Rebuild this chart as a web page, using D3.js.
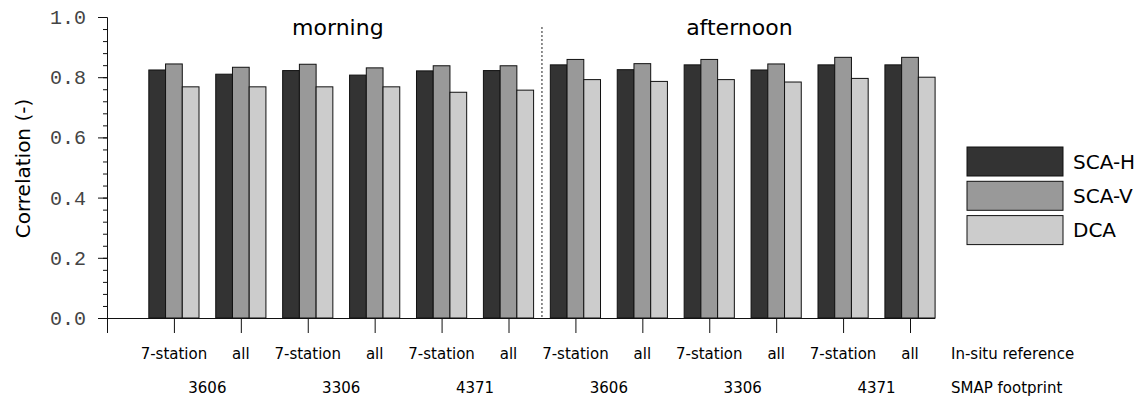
<!DOCTYPE html>
<html>
<head>
<meta charset="utf-8">
<script src="https://cdn.jsdelivr.net/npm/d3@7"></script>
<style>
  body { margin: 0; background: #fff; }
  svg { display: block; }
</style>
</head>
<body>
<div></div>
<script>
const seriesNames = ["SCA-H", "SCA-V", "DCA"];
const seriesColors = ["#333333", "#999999", "#cccccc"];
const inSitu = ["7-station", "all", "7-station", "all", "7-station", "all",
                "7-station", "all", "7-station", "all", "7-station", "all"];
const footprints = ["3606", "3306", "4371", "3606", "3306", "4371"];
const periods = ["morning", "afternoon"];
const scaH = [0.824, 0.810, 0.822, 0.807, 0.821, 0.822, 0.841, 0.825, 0.841, 0.824, 0.841, 0.841];
const scaV = [0.844, 0.833, 0.843, 0.831, 0.838, 0.838, 0.859, 0.845, 0.859, 0.844, 0.866, 0.866];
const dca  = [0.768, 0.768, 0.768, 0.768, 0.750, 0.757, 0.792, 0.786, 0.792, 0.784, 0.796, 0.800];
const yTicks = [0, 0.2, 0.4, 0.6, 0.8, 1.0];

const width = 1146, height = 401;
const svg = d3.select("div").append("svg").attr("width", width).attr("height", height);

const x = d3.scaleLinear().domain([0, 12]).range([107, 910]);
const y = d3.scaleLinear().domain([0, 1]).range([318, 17]);
const barW = (x(1) - x(0)) / 4;
const series = [scaH, scaV, dca];

// bars
series.forEach((vals, s) => {
  svg.append("g").selectAll("rect").data(vals).join("rect")
    .attr("x", (d, i) => x(i + 1) - 1.5 * barW + s * barW)
    .attr("y", d => y(d))
    .attr("width", barW)
    .attr("height", d => y(0) - y(d))
    .attr("fill", seriesColors[s])
    .attr("stroke", "#111")
    .attr("stroke-width", 1);
});

// y axis
const yAxis = svg.append("g").attr("transform", `translate(${x(0)},0)`)
  .call(d3.axisLeft(y).tickValues(yTicks).tickSize(9).tickPadding(12).tickFormat(d3.format(".1f")));
yAxis.selectAll("text").attr("font-family", "Liberation Mono, monospace").attr("font-size", 20).attr("fill", "#444");
svg.append("g").attr("transform", `translate(${x(0)},0)`)
  .call(d3.axisLeft(y).tickValues(d3.range(0, 1.001, 0.04)).tickSize(4).tickFormat(""))
  .select(".domain").remove();

// x axis
const xAxis = svg.append("g").attr("transform", `translate(0,${y(0)})`)
  .call(d3.axisBottom(x).tickValues(d3.range(0, 13)).tickSize(15).tickSizeOuter(0).tickFormat(""));
xAxis.select(".domain").attr("d", `M${x(0)},0.5H${x(12) + 1.5 * barW}`);
svg.selectAll(".tick line, .domain").attr("stroke", "#111");

// in-situ labels
svg.append("g").selectAll("text").data(inSitu).join("text")
  .attr("x", (d, i) => x(i + 1)).attr("y", 359)
  .attr("text-anchor", "middle")
  .attr("font-family", "DejaVu Sans, Verdana, sans-serif").attr("font-size", 15)
  .text(d => d);
svg.append("g").selectAll("text").data(footprints).join("text")
  .attr("x", (d, i) => x(2 * i + 1.5)).attr("y", 393)
  .attr("text-anchor", "middle")
  .attr("font-family", "DejaVu Sans, Verdana, sans-serif").attr("font-size", 15)
  .text(d => d);
svg.append("text").attr("x", 951).attr("y", 359)
  .attr("font-family", "DejaVu Sans, Verdana, sans-serif").attr("font-size", 15).text("In-situ reference");
svg.append("text").attr("x", 951).attr("y", 393)
  .attr("font-family", "DejaVu Sans, Verdana, sans-serif").attr("font-size", 15).text("SMAP footprint");

// period labels and separator
svg.append("g").selectAll("text").data(periods).join("text")
  .attr("x", (d, i) => x(3.45 + 6 * i)).attr("y", 35)
  .attr("text-anchor", "middle")
  .attr("font-family", "DejaVu Sans, Verdana, sans-serif").attr("font-size", 22)
  .text(d => d);
svg.append("line")
  .attr("x1", x(6.5)).attr("x2", x(6.5)).attr("y1", 27).attr("y2", y(0))
  .attr("stroke", "#222").attr("stroke-dasharray", "2,2");

// y label
svg.append("text")
  .attr("transform", `translate(30,${(y(0) + y(1)) / 2 + 1}) rotate(-90)`)
  .attr("text-anchor", "middle")
  .attr("font-family", "DejaVu Sans, Verdana, sans-serif").attr("font-size", 20)
  .text("Correlation (-)");

// legend
const legend = svg.append("g").selectAll("g").data(seriesNames).join("g")
  .attr("transform", (d, i) => `translate(967,${147 + i * 34.3})`);
legend.append("rect").attr("width", 96).attr("height", 29)
  .attr("fill", (d, i) => seriesColors[i]).attr("stroke", "#111");
legend.append("text").attr("x", 106).attr("y", 14.5).attr("dy", "0.36em")
  .attr("font-family", "DejaVu Sans, Verdana, sans-serif").attr("font-size", 20)
  .text(d => d);
</script>
</body>
</html>
